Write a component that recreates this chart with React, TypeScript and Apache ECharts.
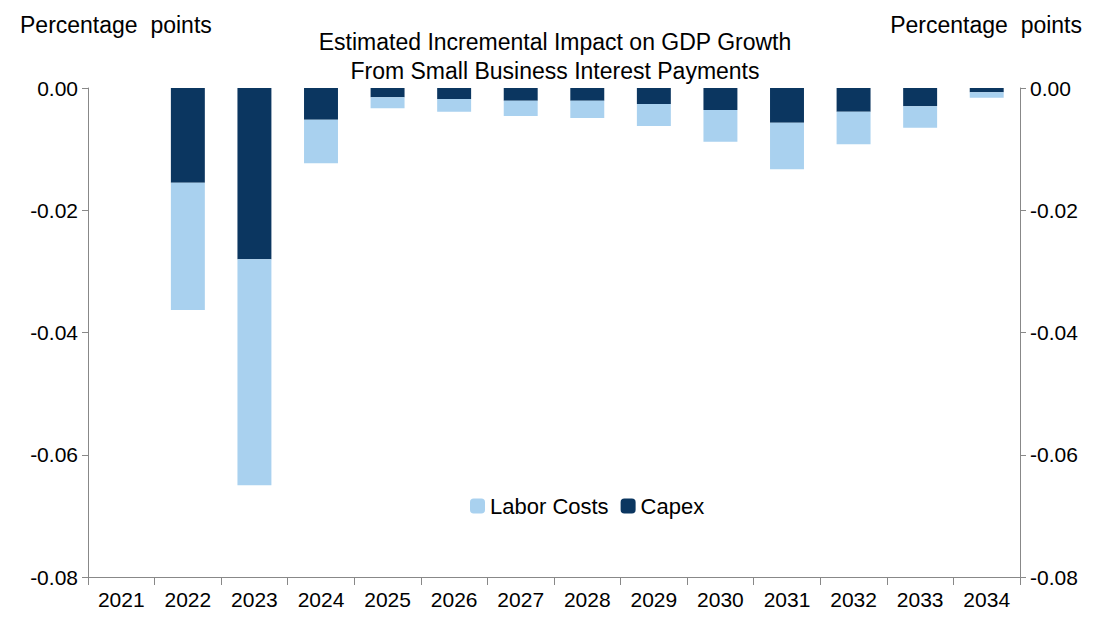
import React, { useEffect, useRef } from "react";
import * as echarts from "echarts";

const years = ["2021","2022","2023","2024","2025","2026","2027","2028","2029","2030","2031","2032","2033","2034"];
const capex = [0, -0.0155, -0.028, -0.0052, -0.0015, -0.0018, -0.0021, -0.0021, -0.0026, -0.0036, -0.0057, -0.0039, -0.003, -0.0007];
const labor = [0, -0.0208, -0.037, -0.0071, -0.0018, -0.0021, -0.0025, -0.0028, -0.0036, -0.0052, -0.0076, -0.0053, -0.0035, -0.0009];

const F = "'Liberation Sans', Arial, sans-serif";

export default function App() {
  const ref = useRef<HTMLDivElement>(null);
  useEffect(() => {
    document.body.style.margin = "0";
    const chart = echarts.init(ref.current!, null, { renderer: "svg" });
    const yAxisCommon = {
      type: "value" as const,
      min: -0.08,
      max: 0,
      interval: 0.02,
      splitLine: { show: false },
      axisLine: { show: true, lineStyle: { color: "#888" } },
      axisTick: { show: true, length: 6, lineStyle: { color: "#888" } },
      axisLabel: { fontFamily: F, fontSize: 21, color: "#000", margin: 10, formatter: (v: number) => v.toFixed(2) },
    };
    chart.setOption({
      animation: false,
      grid: { left: 88, right: 80, top: 88, bottom: 49 },
      title: {
        text: "Estimated Incremental Impact on GDP Growth\nFrom Small Business Interest Payments",
        left: 550, top: 22, textAlign: "center",
        textStyle: { fontFamily: F, fontSize: 23, fontWeight: "normal", color: "#000", lineHeight: 29 },
      },
      graphic: [
        { type: "text", left: 20, top: 13, style: { text: "Percentage  points", font: `23px ${F}`, fill: "#000" } },
        { type: "text", right: 18, top: 13, style: { text: "Percentage  points", font: `23px ${F}`, fill: "#000" } },
      ],
      legend: {
        data: ["Labor Costs", "Capex"],
        left: 465, top: 490,
        itemWidth: 15, itemHeight: 15, itemGap: 12,
        textStyle: { fontFamily: F, fontSize: 22, color: "#000" },
      },
      xAxis: {
        type: "category",
        data: years,
        position: "bottom",
        axisLine: { onZero: false, lineStyle: { color: "#888" } },
        axisTick: { show: true, length: 8, lineStyle: { color: "#888" } },
        axisLabel: { fontFamily: F, fontSize: 21, color: "#000", margin: 12 },
      },
      yAxis: [
        { ...yAxisCommon, position: "left" },
        { ...yAxisCommon, position: "right" },
      ],
      series: [
        { name: "Capex", type: "bar", stack: "a", data: capex, barWidth: "51%", itemStyle: { color: "#0B3660" } },
        { name: "Labor Costs", type: "bar", stack: "a", data: labor, barWidth: "51%", itemStyle: { color: "#A9D1EF" } },
      ],
    });
    return () => chart.dispose();
  }, []);
  return <div ref={ref} style={{ width: 1100, height: 626 }} />;
}
